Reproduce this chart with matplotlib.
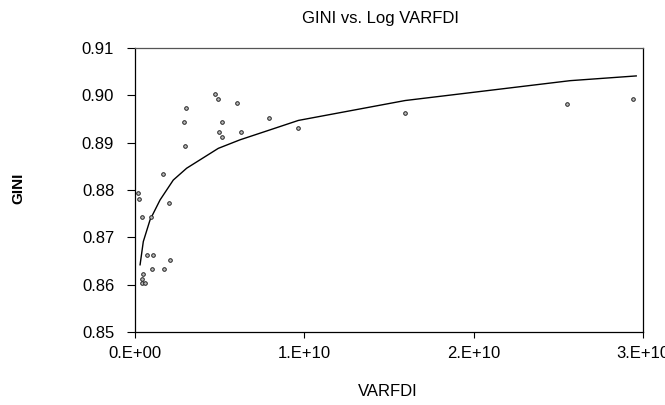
import matplotlib
matplotlib.use("Agg")
import matplotlib.pyplot as plt
from matplotlib.ticker import FixedLocator, FuncFormatter

plt.rcParams['font.family'] = ['Liberation Sans', 'DejaVu Sans']

# Scatter data (VARFDI, GINI)
varfdi = [0.4725e10, 0.490e10, 0.601e10, 0.299e10, 0.288e10, 0.516e10, 0.791e10,
          0.496e10, 0.626e10, 0.514e10, 0.297e10, 0.164e10, 0.020e10, 0.024e10,
          0.040e10, 0.092e10, 0.199e10, 0.069e10, 0.108e10, 0.207e10, 0.100e10,
          0.173e10, 0.049e10, 0.040e10, 0.040e10, 0.059e10, 0.965e10, 1.595e10,
          2.553e10, 2.943e10]
gini = [0.9003, 0.8992, 0.8983, 0.8973, 0.8943, 0.8943, 0.8953,
        0.8923, 0.8923, 0.8913, 0.8893, 0.8833, 0.8793, 0.8782,
        0.8744, 0.8744, 0.8773, 0.8663, 0.8663, 0.8653, 0.8634,
        0.8634, 0.8623, 0.8613, 0.8604, 0.8604, 0.8932, 0.8962,
        0.8982, 0.8992]

# Fitted log curve
fit_x = [0.030e10, 0.049e10, 0.089e10, 0.148e10, 0.226e10, 0.305e10, 0.492e10,
         0.620e10, 0.797e10, 0.965e10, 1.595e10, 2.570e10, 2.960e10]
fit_y = [0.8642, 0.8691, 0.8737, 0.8779, 0.8821, 0.8846, 0.8888,
         0.8906, 0.8927, 0.8947, 0.8989, 0.9031, 0.9041]

x_ticks = [0, 1e10, 2e10, 3e10]
x_tick_labels = ["0.E+00", "1.E+10", "2.E+10", "3.E+10"]
y_ticks = [0.85, 0.86, 0.87, 0.88, 0.89, 0.90, 0.91]

fig = plt.figure(figsize=(6.65, 4.05), dpi=100)
ax = fig.add_axes([135/665, 1 - 332/405, (643-135)/665, (332-48)/405])

ax.plot(fit_x, fit_y, color='black', lw=1.0)
ax.plot(varfdi, gini, linestyle='none', marker='o', ms=2.6, mfc='#bbbbbb',
        mec='#222222', mew=0.7)

ax.set_xlim(0, 3e10)
ax.set_ylim(0.85, 0.91)
ax.xaxis.set_major_locator(FixedLocator(x_ticks))
ax.xaxis.set_major_formatter(FuncFormatter(lambda v, p: x_tick_labels[p] if p is not None and p < len(x_tick_labels) else ""))
ax.set_xticks(x_ticks)
ax.set_xticklabels(x_tick_labels)
ax.set_yticks(y_ticks)
ax.set_yticklabels([f"{v:.2f}" for v in y_ticks])

ax.tick_params(axis='x', direction='out', length=4, width=0.8, pad=6, labelsize=12)
ax.tick_params(axis='y', direction='out', length=6, width=0.8, pad=9, labelsize=12)

for s in ['left', 'bottom', 'right']:
    ax.spines[s].set_color('black')
    ax.spines[s].set_linewidth(0.9)
ax.spines['top'].set_color('#555555')
ax.spines['top'].set_linewidth(0.9)

fig.text(381/665, 1 - 18/405, "GINI vs. Log VARFDI", ha='center', va='center', fontsize=12)
fig.text(388/665, 1 - 391/405, "VARFDI", ha='center', va='center', fontsize=12)
fig.text(18/665, 1 - 188/405, "GINI", ha='center', va='center', rotation=90,
         fontsize=11, fontweight='bold')

fig.savefig("out.png", dpi=100)
